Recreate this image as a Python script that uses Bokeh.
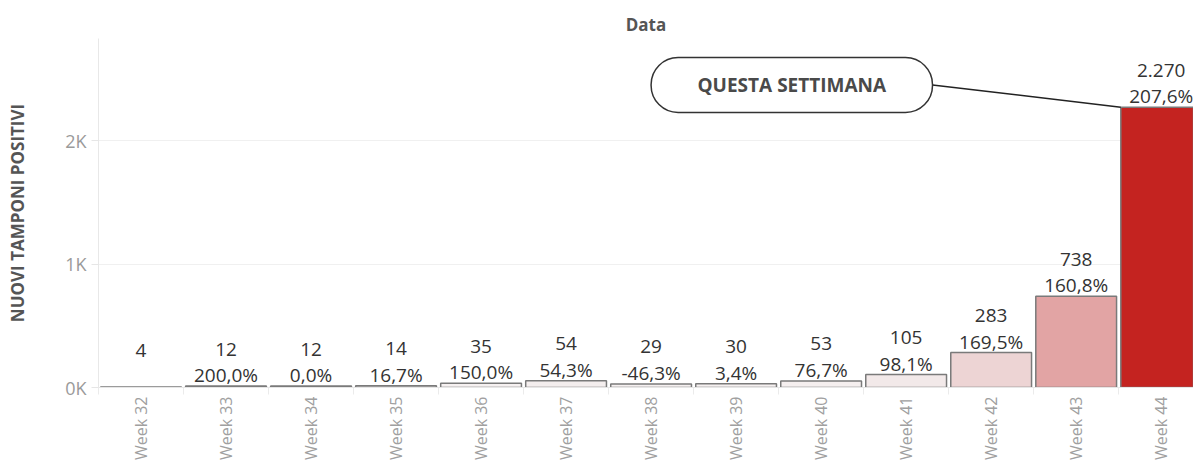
import numpy as np
from bokeh.plotting import figure
from bokeh.models import (FixedTicker, BoxAnnotation, Label, Range1d,
                          LinearColorMapper, ColumnDataSource, Title)
from bokeh.transform import transform
from bokeh.embed import file_html
from bokeh.resources import INLINE
from bokeh.core.properties import value

# ---------------- data ----------------
weeks = ["Week 32", "Week 33", "Week 34", "Week 35", "Week 36", "Week 37", "Week 38",
         "Week 39", "Week 40", "Week 41", "Week 42", "Week 43", "Week 44"]
positives = [4, 12, 12, 14, 35, 54, 29, 30, 53, 105, 283, 738, 2270]
pct_change = [None, 200.0, 0.0, 16.7, 150.0, 54.3, -46.3, 3.4, 76.7, 98.1, 169.5, 160.8, 207.6]
y_ticks = [0, 1000, 2000]
y_tick_labels = ["0K", "1K", "2K"]
callout_text = "QUESTA SETTIMANA"
title_text = "Data"
y_title = "NUOVI TAMPONI POSITIVI"

FONT = "Open Sans"
BAR_W = 0.95

def fmt_int(v):
    return f"{v:,}".replace(",", ".")

def fmt_pct(p):
    if p is None:
        return ""
    return f"{p:.1f}%".replace(".", ",")

xs = list(range(len(weeks)))
src = ColumnDataSource(dict(
    x=xs,
    top=positives,
    vlab=[fmt_int(v) for v in positives],
    plab=[fmt_pct(p) for p in pct_change],
))

# sequential white -> red palette (piecewise stops)
stops_f = [0.0, 0.046, 0.125, 0.325, 1.0]
stops_rgb = [(247, 244, 244), (242, 232, 232), (237, 211, 211), (226, 164, 164), (196, 35, 32)]
t = np.linspace(0, 1, 256)
chan = [np.interp(t, stops_f, [c[k] for c in stops_rgb]) for k in range(3)]
palette = ["#%02x%02x%02x" % (int(round(r)), int(round(g)), int(round(b)))
           for r, g, b in zip(*chan)]
mapper = LinearColorMapper(palette=palette, low=0, high=max(positives))

p = figure(width=1193, height=465, output_backend="svg", toolbar_location=None,
           x_range=Range1d(-0.5, 12.38), y_range=Range1d(0, 2826),
           min_border_left=98, min_border_right=0, min_border_top=38,
           min_border_bottom=78)
p.outline_line_color = None
p.background_fill_color = "white"

p.add_layout(Title(text=title_text, align="center", text_font=FONT,
                   text_font_size="17px", text_font_style="bold",
                   text_color="#555555", standoff=6), "above")

p.vbar(x="x", top="top", width=BAR_W, source=src,
       fill_color=transform("top", mapper), line_color="#7a7a7a", line_width=1.5)

p.text(x="x", y="top", text="plab", source=src, y_offset=-11,
       text_align="center", text_baseline="alphabetic",
       text_font=value(FONT), text_font_size="19px", text_color="#333333")
p.text(x="x", y="top", text="vlab", source=src, y_offset=-37,
       text_align="center", text_baseline="alphabetic",
       text_font=value(FONT), text_font_size="19px", text_color="#333333")

# callout
box_l, box_r, box_b, box_t = 6.0, 9.31, 2227, 2672
p.add_layout(BoxAnnotation(left=box_l, right=box_r, bottom=box_b, top=box_t,
                           fill_color="white", fill_alpha=1.0,
                           line_color="#333333", line_width=1.5, line_alpha=1.0,
                           border_radius=27, level="overlay"))
p.add_layout(Label(x=(box_l + box_r) / 2, y=(box_b + box_t) / 2, text=callout_text,
                   text_align="center", text_baseline="middle",
                   text_font=FONT, text_font_size="19px", text_font_style="bold",
                   text_color="#4a4a4a", level="overlay"))
p.segment(x0=[box_r], y0=[(box_b + box_t) / 2], x1=[xs[-1] - BAR_W / 2],
          y1=[positives[-1]], line_color="#222222", line_width=1.5)

# axes
xa = p.xaxis[0]
xa.ticker = FixedTicker(ticks=xs, minor_ticks=[i + 0.5 for i in range(-1, len(xs))])
xa.major_label_overrides = {i: w for i, w in enumerate(weeks)}
xa.major_label_orientation = np.pi / 2
xa.major_label_text_font = FONT
xa.major_label_text_font_size = "16px"
xa.major_label_text_color = "#a0a0a0"
xa.major_label_standoff = 2
xa.major_tick_line_color = None
xa.major_tick_out = 0
xa.major_tick_in = 0
xa.minor_tick_line_color = "#ebebeb"
xa.minor_tick_out = 7
xa.minor_tick_in = 0
xa.axis_line_color = "#e6e6e6"

ya = p.yaxis[0]
ya.ticker = FixedTicker(ticks=y_ticks)
ya.major_label_overrides = {v: s for v, s in zip(y_ticks, y_tick_labels)}
ya.major_label_text_font = FONT
ya.major_label_text_font_size = "18px"
ya.major_label_text_color = "#9a9a9a"
ya.major_tick_line_color = "#e6e6e6"
ya.major_tick_out = 7
ya.major_tick_in = 0
ya.minor_tick_line_color = None
ya.axis_line_color = "#e8e8e8"
ya.axis_label = y_title
ya.axis_label_text_font = FONT
ya.axis_label_text_font_size = "17px"
ya.axis_label_text_font_style = "bold"
ya.axis_label_text_color = "#555555"
ya.axis_label_standoff = 33

p.xgrid.grid_line_color = None
p.ygrid.grid_line_color = "#f0f0f0"
p.ygrid.ticker = FixedTicker(ticks=y_ticks)

open("out.html", "w").write(file_html(p, INLINE))
